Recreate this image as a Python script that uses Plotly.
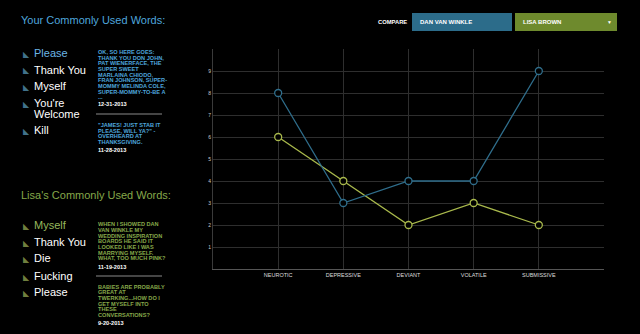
import plotly.graph_objects as go

W, H = 640, 334

categories = ["NEUROTIC", "DEPRESSIVE", "DEVIANT", "VOLATILE", "SUBMISSIVE"]
dan_values = [8, 3, 4, 4, 9]
lisa_values = [6, 4, 2, 3, 2]
y_ticks = [1, 2, 3, 4, 5, 6, 7, 8, 9, 10]
y_ticklabels = ["1", "2", "3", "4", "5", "6", "7", "8", "9", ""]

your_words = ["Please", "Thank You", "Myself", "You're", "Welcome", "Kill"]
lisa_words = ["Myself", "Thank You", "Die", "Fucking", "Please"]

your_quote1 = ["OK, SO HERE GOES:", "THANK YOU DON JOHN,", "PAT WIENERFACE, THE", "SUPER SWEET",
               "MARLAINA CHIODO,", "FRAN JOHNSON, SUPER-", "MOMMY MELINDA COLE,",
               "SUPER-MOMMY-TO-BE A", "..."]
your_date1 = "12-31-2013"
your_quote2 = ["\"JAMES! JUST STAB IT", "PLEASE, WILL YA?\" -", "OVERHEARD AT", "THANKSGIVING."]
your_date2 = "11-28-2013"
lisa_quote1 = ["WHEN I SHOWED DAN", "VAN WINKLE MY", "WEDDING INSPIRATION", "BOARDS HE SAID IT",
               "LOOKED LIKE I WAS", "MARRYING MYSELF.", "WHAT, TOO MUCH PINK?"]
lisa_date1 = "11-19-2013"
lisa_quote2 = ["BABIES ARE PROBABLY", "GREAT AT", "TWERKING...HOW DO I", "GET MYSELF INTO",
               "THESE", "CONVERSATIONS?"]
lisa_date2 = "9-20-2013"

BLUE_LINE = "#2f6e8c"
GREEN_LINE = "#a9b94c"
BLUE_TXT = "#4ea6dc"
GREEN_TXT = "#86a94a"
FONT = "Liberation Sans, Arial, sans-serif"

x_idx = list(range(len(categories)))

fig = go.Figure()
fig.add_trace(go.Scatter(x=x_idx, y=lisa_values, mode="lines+markers",
                         line=dict(color=GREEN_LINE, width=1.3),
                         marker=dict(size=7, color="black", line=dict(color=GREEN_LINE, width=1.3)),
                         hoverinfo="skip"))
fig.add_trace(go.Scatter(x=x_idx, y=dan_values, mode="lines+markers",
                         line=dict(color=BLUE_LINE, width=1.3),
                         marker=dict(size=7, color="black", line=dict(color=BLUE_LINE, width=1.3)),
                         hoverinfo="skip"))

def px(x):
    return x / W

def py(y):
    return 1 - y / H

ann = []
shapes = []

def text(x, y, s, size, color, bold=False, xanchor="left", yanchor="middle"):
    if bold:
        s = "<b>" + s + "</b>"
    ann.append(dict(x=px(x), y=py(y), xref="paper", yref="paper", text=s, showarrow=False,
                    xanchor=xanchor, yanchor=yanchor, align="left",
                    font=dict(family=FONT, size=size, color=color)))

# headings
text(19, 20, "Your Commonly Used Words:", 11, BLUE_TXT)
text(19, 195, "Lisa's Commonly Used Words:", 11, GREEN_TXT)

# word lists
your_y = [53, 70, 86, 103, 114, 130]
for i, (w, y) in enumerate(zip(your_words, your_y)):
    text(32, y, w, 11, "#6cb6e6" if i == 0 else "white")
    if i != 4:
        text(20.5, y + 1, "◣", 8, "#41728a")
lisa_y = [225, 242, 258, 276, 292]
for i, (w, y) in enumerate(zip(lisa_words, lisa_y)):
    text(32, y, w, 11, "#95b85c" if i == 0 else "white")
    text(20.5, y + 1, "◣", 8, "#6f7f3e")

STEP = 5.65
def quote(lines, y0, color):
    for k, ln in enumerate(lines):
        text(95.5, y0 + k * STEP, ln, 5.6, color, bold=True)

quote(your_quote1, 52, BLUE_TXT)
text(95.5, 104, your_date1, 5.6, "white", bold=True)
quote(your_quote2, 125, BLUE_TXT)
text(95.5, 150, your_date2, 5.6, "white", bold=True)
quote(lisa_quote1, 224.3, GREEN_TXT)
text(95.5, 266.7, lisa_date1, 5.6, "white", bold=True)
quote(lisa_quote2, 286.7, GREEN_TXT)
text(95.5, 323.3, lisa_date2, 5.6, "white", bold=True)

for sy in (114, 276):
    shapes.append(dict(type="line", xref="paper", yref="paper", x0=px(96), x1=px(162),
                       y0=py(sy), y1=py(sy), line=dict(color="#8a8a8a", width=1)))

# compare controls
text(376, 22, "COMPARE", 5.8, "white", bold=True)
shapes.append(dict(type="rect", xref="paper", yref="paper", x0=px(412), x1=px(512),
                   y0=py(31), y1=py(13), fillcolor="#2c6c8a", line=dict(width=0)))
shapes.append(dict(type="rect", xref="paper", yref="paper", x0=px(515), x1=px(617),
                   y0=py(31), y1=py(13), fillcolor="#6e8a2d", line=dict(width=0)))
text(418, 22, "DAN VAN WINKLE", 6, "white", bold=True)
text(521, 22, "LISA BROWN", 6, "white", bold=True)
text(609, 22, "▼", 5, "white", xanchor="center")

fig.update_layout(
    width=W, height=H,
    margin=dict(l=0, r=0, t=0, b=0),
    paper_bgcolor="black", plot_bgcolor="black",
    showlegend=False,
    annotations=ann, shapes=shapes,
    xaxis=dict(domain=[213 / W, 604 / W], range=[-1, 5], tickvals=x_idx, ticktext=categories,
               showgrid=True, gridcolor="#2e2e2e", gridwidth=1, zeroline=False,
               showline=True, linecolor="#555555", linewidth=1, ticks="",
               tickfont=dict(family=FONT, size=5.5, color="#dddddd"), automargin=False),
    yaxis=dict(domain=[65 / H, 285 / H], range=[0, 10], tickvals=y_ticks, ticktext=y_ticklabels,
               showgrid=True, gridcolor="#2e2e2e", gridwidth=1, zeroline=False,
               showline=True, linecolor="#3a3a3a", linewidth=1, ticks="",
               tickfont=dict(family=FONT, size=5, color="#cccccc"), automargin=False),
)

fig.write_html("out.html")
